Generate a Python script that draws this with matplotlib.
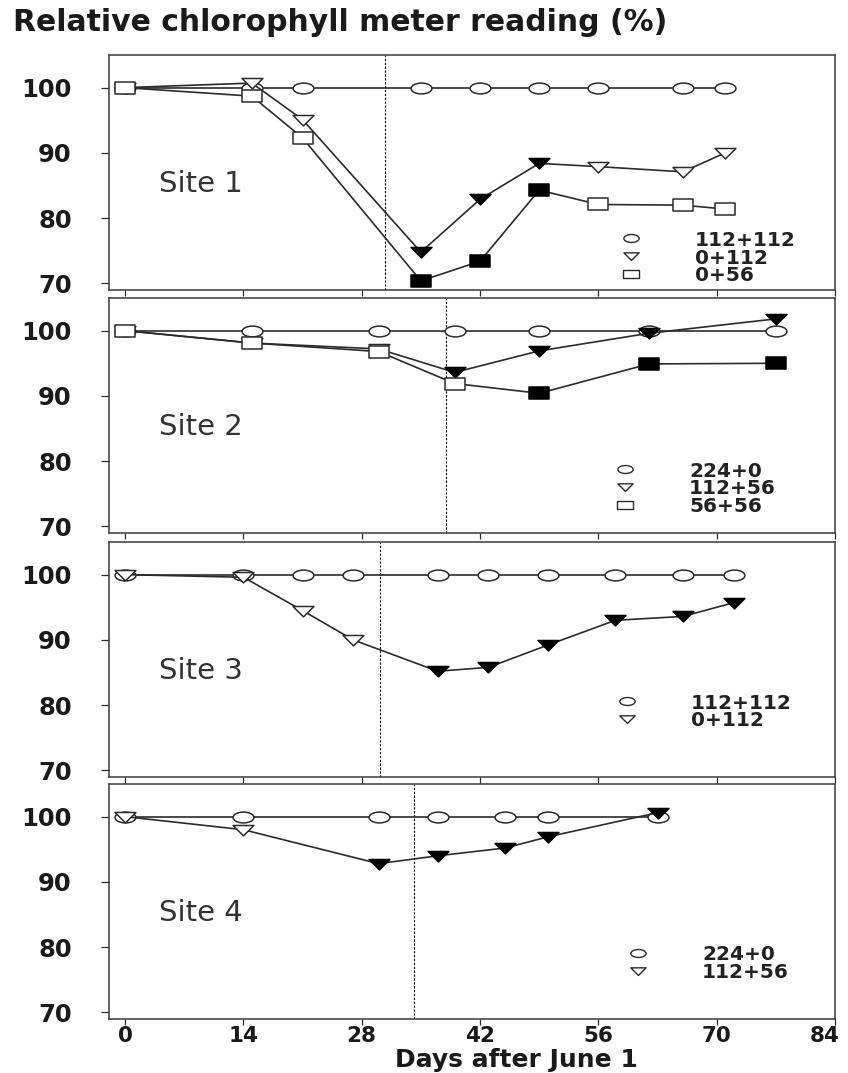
import matplotlib
matplotlib.use("Agg")
import matplotlib.pyplot as plt
from matplotlib.path import Path
from matplotlib.markers import MarkerStyle
from matplotlib.transforms import Affine2D, ScaledTranslation
from matplotlib.lines import Line2D

# ---- data ----
# Site 1
s1_days = [0, 15, 21, 35, 42, 49, 56, 66, 71]
s1_112_112 = [100, 100, 100, 100, 100, 100, 100, 100, 100]
s1_0_112 = [100, 100.7, 95.1, 74.8, 82.9, 88.4, 87.9, 87.1, 90.0]
s1_0_56 = [100, 98.7, 92.3, 70.4, 73.4, 84.3, 82.1, 82.0, 81.4]
s1_0_112_sig = [0, 0, 0, 1, 1, 1, 0, 0, 0]
s1_0_56_sig = [0, 0, 0, 1, 1, 1, 0, 0, 0]

# Site 2
s2_days = [0, 15, 30, 39, 49, 62, 77]
s2_224_0 = [100, 100, 100, 100, 100, 100, 100]
s2_112_56 = [100, 98.1, 97.2, 93.6, 96.9, 99.6, 101.8]
s2_56_56 = [100, 98.1, 96.8, 91.9, 90.4, 94.9, 95.0]
s2_112_56_sig = [0, 0, 0, 1, 1, 1, 1]
s2_56_56_sig = [0, 0, 0, 0, 1, 1, 1]

# Site 3
s3_days = [0, 14, 21, 27, 37, 43, 50, 58, 66, 72]
s3_112_112 = [100, 100, 100, 100, 100, 100, 100, 100, 100, 100]
s3_0_112 = [100, 99.6, 94.5, 90.0, 85.2, 85.8, 89.2, 93.0, 93.6, 95.7]
s3_0_112_sig = [0, 0, 0, 0, 1, 1, 1, 1, 1, 1]

# Site 4
s4_days = [0, 14, 30, 37, 45, 50, 63]
s4_224_0 = [100, 100, 100, 100, 100, 100, 100]
s4_112_56 = [100, 98.0, 92.8, 94.0, 95.2, 96.9, 100.6]
s4_112_56_sig = [0, 0, 1, 1, 1, 1, 1]

# day of the dotted vertical line in each panel
split_days = [30.7, 38.0, 30.2, 34.2]
site_names = ["Site 1", "Site 2", "Site 3", "Site 4"]
x_ticks = [0, 14, 28, 42, 56, 70, 84]
y_ticks = [70, 80, 90, 100]

# ---- markers: flattened shapes like the scanned figure ----
ellipse = MarkerStyle(Path.unit_circle().transformed(Affine2D().scale(1, 0.52)))
tri_down = MarkerStyle(Path([(-1, 0.48), (1, 0.48), (0, -0.52), (-1, 0.48)],
                            [Path.MOVETO, Path.LINETO, Path.LINETO, Path.CLOSEPOLY]))
rect = MarkerStyle(Path([(-1, -0.55), (1, -0.55), (1, 0.55), (-1, 0.55), (-1, -0.55)],
                        [Path.MOVETO, Path.LINETO, Path.LINETO, Path.LINETO, Path.CLOSEPOLY]))

LINE_C = "#2b2b2b"
W, H = 848, 1073
fig = plt.figure(figsize=(W / 100, H / 100), dpi=100)

ax_left, ax_w, ax_h = 109, 726, 235
tops = [55, 298, 542, 784]


def draw_series(ax, days, vals, sig, marker, z):
    ax.plot(days, vals, "-", color=LINE_C, lw=1.2, zorder=z)
    if sig is None:
        sig = [0] * len(days)
    ox = [d for d, s in zip(days, sig) if not s]
    oy = [v for v, s in zip(vals, sig) if not s]
    fx = [d for d, s in zip(days, sig) if s]
    fy = [v for v, s in zip(vals, sig) if s]
    ax.plot(ox, oy, ls="none", marker=marker, ms=15, mfc="white", mec=LINE_C,
            mew=1.1, zorder=z + 0.5)
    ax.plot(fx, fy, ls="none", marker=marker, ms=15, mfc="black", mec="black",
            mew=1.1, zorder=z + 0.5)


def add_legend(ax, labels, markers, cx, cy):
    handles = [Line2D([], [], ls="none", marker=m, ms=11, mfc="white",
                      mec=LINE_C, mew=1.0, label=l) for l, m in zip(labels, markers)]
    fs = 14.5
    em = fs * 100 / 72
    hl = 1.4
    # marker centre at cx (px), middle of the rows at cy (px)
    x0 = cx - hl * em / 2
    top = tops[axes.index(ax)]
    leg = ax.legend(handles=handles, loc="center left",
                    bbox_to_anchor=((x0 - ax_left) / ax_w, 1 - (cy - top) / ax_h),
                    bbox_transform=ax.transAxes, frameon=False, borderpad=0,
                    borderaxespad=0, handlelength=hl,
                    handletextpad=(64 - hl * em / 2) / em,
                    labelspacing=-0.05, prop=dict(weight="bold", size=fs))
    for t in leg.get_texts():
        t.set_color("#222222")


axes = []
for i, t in enumerate(tops):
    ax = fig.add_axes([ax_left / W, 1 - (t + ax_h) / H, ax_w / W, ax_h / H])
    axes.append(ax)
    ax.set_xlim(-1.9, 84)
    ax.set_ylim(69, 105)
    ax.set_xticks(x_ticks)
    ax.set_yticks(y_ticks)
    ax.tick_params(axis="y", direction="out", length=5.8, width=0.9, pad=21,
                   labelsize=17.5, colors=LINE_C, labelcolor="#1a1a1a")
    ax.tick_params(axis="x", direction="out", length=4.3, width=0.9, pad=0.5,
                   labelsize=15.5, colors=LINE_C, labelcolor="#1a1a1a")
    for lab in ax.get_yticklabels():
        lab.set_fontweight("bold")
    if i < 3:
        ax.tick_params(axis="x", labelbottom=False)
    for sp in ax.spines.values():
        sp.set_linewidth(1.1)
        sp.set_color("#3a3a3a")
    ax.axvline(split_days[i], color="black", lw=0.8, ls=(0, (2, 1.5)), zorder=1)
    ax.text(9, 84, site_names[i], ha="center", va="baseline", fontsize=21,
            color="#333333")

# Site 1
ax = axes[0]
draw_series(ax, s1_days, s1_112_112, None, ellipse, 2)
draw_series(ax, s1_days, s1_0_112, s1_0_112_sig, tri_down, 3)
draw_series(ax, s1_days, s1_0_56, s1_0_56_sig, rect, 4)
add_legend(ax, ["112+112", "0+112", "0+56"], [ellipse, tri_down, rect], 631, 258)

# Site 2
ax = axes[1]
draw_series(ax, s2_days, s2_224_0, None, ellipse, 2)
draw_series(ax, s2_days, s2_112_56, s2_112_56_sig, tri_down, 3)
draw_series(ax, s2_days, s2_56_56, s2_56_56_sig, rect, 4)
add_legend(ax, ["224+0", "112+56", "56+56"], [ellipse, tri_down, rect], 625, 489)

# Site 3
ax = axes[2]
draw_series(ax, s3_days, s3_112_112, None, ellipse, 2)
draw_series(ax, s3_days, s3_0_112, s3_0_112_sig, tri_down, 3)
add_legend(ax, ["112+112", "0+112"], [ellipse, tri_down], 627, 712)

# Site 4
ax = axes[3]
draw_series(ax, s4_days, s4_224_0, None, ellipse, 2)
draw_series(ax, s4_days, s4_112_56, s4_112_56_sig, tri_down, 3)
add_legend(ax, ["224+0", "112+56"], [ellipse, tri_down], 638, 963.5)

labs = axes[3].get_xticklabels()
for lab in labs:
    lab.set_fontweight("bold")
labs[-1].set_transform(labs[-1].get_transform() + ScaledTranslation(-0.1, 0, fig.dpi_scale_trans))

fig.text(13 / W, 1 - 31 / H, "Relative chlorophyll meter reading (%)",
         ha="left", va="baseline", fontsize=21.5, fontweight="bold", color="#1a1a1a")
fig.text(516 / W, 1 - 1066.5 / H, "Days after June 1", ha="center", va="baseline",
         fontsize=18, fontweight="bold", color="#1a1a1a")

fig.savefig("out.png", dpi=100)
